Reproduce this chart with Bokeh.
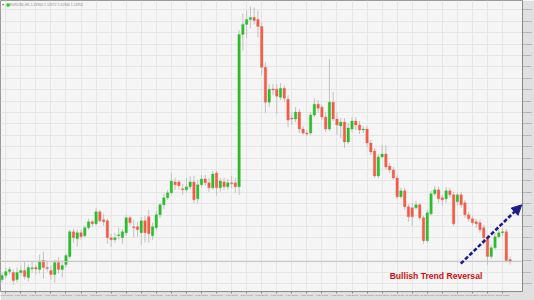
import datetime as dt
from bokeh.plotting import figure
from bokeh.models import FixedTicker, Span, Label, Arrow, NormalHead, ColumnDataSource
from bokeh.embed import file_html
from bokeh.resources import INLINE

symbol = "EURUSD,H1"

opens = [1.11880, 1.11896, 1.11912, 1.11908, 1.11880, 1.11908, 1.11916, 1.11888, 1.11924, 1.11928,
         1.11920, 1.11956, 1.11928, 1.11916, 1.11900, 1.11948, 1.11920, 1.11940, 1.11972, 1.12072,
         1.12044, 1.12068, 1.12056, 1.12088, 1.12112, 1.12104, 1.12152, 1.12120, 1.12116, 1.12048,
         1.12040, 1.12056, 1.12048, 1.12068, 1.12128, 1.12092, 1.12092, 1.12068, 1.12116, 1.12132,
         1.12056, 1.12088, 1.12140, 1.12180, 1.12208, 1.12228, 1.12272, 1.12272, 1.12244, 1.12240,
         1.12252, 1.12272, 1.12204, 1.12260, 1.12284, 1.12268, 1.12248, 1.12308, 1.12248, 1.12272,
         1.12252, 1.12268, 1.12268, 1.12252, 1.12864, 1.12904, 1.12924, 1.12932, 1.12924, 1.12896,
         1.12732, 1.12592, 1.12644, 1.12644, 1.12612, 1.12648, 1.12604, 1.12528, 1.12524, 1.12552,
         1.12484, 1.12468, 1.12468, 1.12540, 1.12584, 1.12572, 1.12532, 1.12484, 1.12592, 1.12524,
         1.12496, 1.12512, 1.12432, 1.12484, 1.12516, 1.12500, 1.12480, 1.12484, 1.12428, 1.12396,
         1.12296, 1.12372, 1.12384, 1.12336, 1.12320, 1.12288, 1.12212, 1.12236, 1.12172, 1.12168,
         1.12168, 1.12180, 1.12128, 1.12036, 1.12144, 1.12224, 1.12240, 1.12208, 1.12204, 1.12236,
         1.12220, 1.12192, 1.12220, 1.12188, 1.12140, 1.12124, 1.12112, 1.12108, 1.12088, 1.12048,
         1.11972, 1.12008, 1.12052, 1.12068, 1.12072, 1.11960]
highs = [1.11908, 1.11928, 1.11932, 1.11920, 1.11928, 1.11936, 1.11952, 1.11940, 1.11952, 1.11940,
         1.11980, 1.11992, 1.11952, 1.11936, 1.11960, 1.11968, 1.11952, 1.11984, 1.12080, 1.12084,
         1.12080, 1.12080, 1.12096, 1.12124, 1.12120, 1.12168, 1.12160, 1.12144, 1.12124, 1.12064,
         1.12068, 1.12088, 1.12084, 1.12140, 1.12136, 1.12120, 1.12112, 1.12132, 1.12136, 1.12160,
         1.12108, 1.12156, 1.12188, 1.12224, 1.12240, 1.12308, 1.12288, 1.12280, 1.12264, 1.12288,
         1.12296, 1.12296, 1.12280, 1.12300, 1.12300, 1.12288, 1.12316, 1.12316, 1.12288, 1.12288,
         1.12284, 1.12296, 1.12288, 1.12880, 1.12948, 1.12960, 1.12976, 1.12972, 1.12960, 1.12912,
         1.12752, 1.12664, 1.12664, 1.12664, 1.12668, 1.12660, 1.12620, 1.12552, 1.12572, 1.12564,
         1.12496, 1.12480, 1.12552, 1.12608, 1.12600, 1.12584, 1.12552, 1.12764, 1.12632, 1.12552,
         1.12528, 1.12528, 1.12508, 1.12532, 1.12532, 1.12516, 1.12496, 1.12496, 1.12440, 1.12408,
         1.12384, 1.12420, 1.12420, 1.12348, 1.12332, 1.12300, 1.12248, 1.12248, 1.12184, 1.12188,
         1.12196, 1.12188, 1.12136, 1.12160, 1.12236, 1.12256, 1.12252, 1.12220, 1.12252, 1.12248,
         1.12232, 1.12228, 1.12232, 1.12200, 1.12152, 1.12136, 1.12124, 1.12120, 1.12100, 1.12060,
         1.12020, 1.12068, 1.12080, 1.12088, 1.12084, 1.11972]
lows = [1.11868, 1.11884, 1.11900, 1.11860, 1.11868, 1.11896, 1.11880, 1.11872, 1.11908, 1.11900,
        1.11904, 1.11884, 1.11912, 1.11880, 1.11868, 1.11904, 1.11888, 1.11928, 1.11964, 1.12028,
        1.12012, 1.12040, 1.12048, 1.12080, 1.12092, 1.12096, 1.12108, 1.12096, 1.12024, 1.12012,
        1.12028, 1.12040, 1.12024, 1.12056, 1.12096, 1.12048, 1.12052, 1.12020, 1.12028, 1.12028,
        1.12040, 1.12076, 1.12128, 1.12164, 1.12200, 1.12220, 1.12240, 1.12240, 1.12220, 1.12228,
        1.12240, 1.12188, 1.12188, 1.12248, 1.12256, 1.12232, 1.12240, 1.12216, 1.12232, 1.12240,
        1.12240, 1.12248, 1.12228, 1.12220, 1.12800, 1.12848, 1.12888, 1.12904, 1.12852, 1.12700,
        1.12548, 1.12572, 1.12620, 1.12544, 1.12600, 1.12592, 1.12492, 1.12500, 1.12512, 1.12468,
        1.12460, 1.12456, 1.12460, 1.12532, 1.12548, 1.12520, 1.12472, 1.12476, 1.12516, 1.12460,
        1.12448, 1.12408, 1.12424, 1.12472, 1.12480, 1.12464, 1.12468, 1.12412, 1.12380, 1.12288,
        1.12288, 1.12368, 1.12324, 1.12308, 1.12280, 1.12204, 1.12204, 1.12160, 1.12112, 1.12096,
        1.12160, 1.12120, 1.12024, 1.12028, 1.12136, 1.12216, 1.12188, 1.12176, 1.12188, 1.12208,
        1.12096, 1.12176, 1.12168, 1.12128, 1.12112, 1.12096, 1.12088, 1.12068, 1.12020, 1.11940,
        1.11964, 1.12000, 1.12044, 1.12056, 1.11948, 1.11940]
closes = [1.11896, 1.11912, 1.11920, 1.11876, 1.11908, 1.11916, 1.11892, 1.11928, 1.11926, 1.11922,
          1.11952, 1.11928, 1.11924, 1.11900, 1.11948, 1.11920, 1.11936, 1.11976, 1.12072, 1.12048,
          1.12068, 1.12052, 1.12088, 1.12112, 1.12104, 1.12152, 1.12116, 1.12112, 1.12048, 1.12040,
          1.12048, 1.12060, 1.12072, 1.12128, 1.12108, 1.12088, 1.12080, 1.12116, 1.12068, 1.12064,
          1.12092, 1.12140, 1.12180, 1.12208, 1.12228, 1.12276, 1.12260, 1.12256, 1.12240, 1.12252,
          1.12272, 1.12200, 1.12260, 1.12284, 1.12268, 1.12248, 1.12304, 1.12248, 1.12276, 1.12252,
          1.12268, 1.12264, 1.12252, 1.12864, 1.12904, 1.12924, 1.12932, 1.12920, 1.12896, 1.12732,
          1.12592, 1.12644, 1.12642, 1.12616, 1.12648, 1.12608, 1.12520, 1.12524, 1.12552, 1.12484,
          1.12468, 1.12464, 1.12540, 1.12584, 1.12568, 1.12532, 1.12484, 1.12592, 1.12524, 1.12500,
          1.12512, 1.12432, 1.12488, 1.12516, 1.12500, 1.12480, 1.12484, 1.12428, 1.12392, 1.12296,
          1.12372, 1.12384, 1.12332, 1.12320, 1.12288, 1.12212, 1.12236, 1.12172, 1.12132, 1.12132,
          1.12180, 1.12128, 1.12036, 1.12148, 1.12224, 1.12240, 1.12204, 1.12200, 1.12236, 1.12220,
          1.12104, 1.12220, 1.12180, 1.12140, 1.12124, 1.12108, 1.12104, 1.12080, 1.12048, 1.11972,
          1.12008, 1.12052, 1.12068, 1.12072, 1.11956, 1.11952]

price_ticks = [1.12963, 1.12917, 1.12871, 1.12825, 1.12779, 1.12734, 1.12688, 1.12642, 1.12596,
               1.12550, 1.12505, 1.12459, 1.12413, 1.12367, 1.12321, 1.12276, 1.12230, 1.12184,
               1.12138, 1.12092, 1.12047, 1.12001, 1.11955, 1.11909, 1.11863]
price_tick_labels = ["%.5f" % v for v in price_ticks]

time_tick_idx = list(range(1, 137, 4))
t0 = dt.datetime(2020, 7, 6, 0)
time_tick_labels = [(t0 + dt.timedelta(hours=i)).strftime("%d %b %H:%M").lstrip("0") for i in time_tick_idx]

annotation_text = "Bullish Trend Reversal"
annotation_pos = (103.0, 1.11896)
arrow_from = (121.9, 1.11944)
arrow_to = (138.1, 1.12180)

GREEN = "#2bbd2b"
RED = "#f25c46"
WICK = "#c2c2c2"
NAVY = "#1c1c8c"

n = len(opens)
xs = list(range(n))
tops, bots, cols = [], [], []
for o, c in zip(opens, closes):
    t, b = max(o, c), min(o, c)
    if t - b < 0.00004:
        m = (t + b) / 2
        t, b = m + 0.00002, m - 0.00002
    tops.append(t)
    bots.append(b)
    cols.append(GREEN if c >= o else RED)

src = ColumnDataSource(dict(x=xs, o=opens, h=highs, l=lows, c=closes, top=tops, bot=bots, col=cols))

p = figure(width=534, height=300, x_range=(-0.4, 138.3), y_range=(1.11832, 1.13000),
           output_backend="svg", toolbar_location=None, min_border=0,
           min_border_right=11, min_border_bottom=8,
           y_axis_location="right")
p.background_fill_color = "#f5f5f5"
p.border_fill_color = "#e0e0e0"
p.outline_line_color = "#9a9a9a"

p.xgrid.ticker = FixedTicker(ticks=time_tick_idx)
p.ygrid.ticker = FixedTicker(ticks=price_ticks)
p.xgrid.grid_line_color = "#e6e6e6"
p.ygrid.grid_line_color = "#e6e6e6"

xa = p.xaxis[0]
xa.ticker = FixedTicker(ticks=time_tick_idx)
xa.major_label_overrides = {i: s for i, s in zip(time_tick_idx, time_tick_labels)}
xa.major_label_text_font_size = "2.5px"
xa.major_label_text_color = "#707070"
xa.major_label_text_font = "Liberation Sans"
xa.major_tick_out = 2
xa.major_tick_in = 0
xa.minor_tick_line_color = None
xa.major_label_standoff = 1
xa.axis_line_color = "#8a8a8a"
xa.major_tick_line_color = "#8a8a8a"

ya = p.yaxis[0]
ya.ticker = FixedTicker(ticks=price_ticks)
ya.major_label_overrides = {v: s for v, s in zip(price_ticks, price_tick_labels)}
ya.major_label_text_font_size = "2.2px"
ya.major_label_text_color = "#6a6a6a"
ya.major_label_text_font = "Liberation Sans"
ya.major_tick_out = 1
ya.major_tick_in = 0
ya.minor_tick_line_color = None
ya.major_label_standoff = 0
ya.axis_line_color = "#8a8a8a"
ya.major_tick_line_color = "#8a8a8a"

p.add_layout(Span(location=closes[-1], dimension="width", line_color="#c6c6c6", line_width=1))

p.segment(x0="x", y0="l", x1="x", y1="h", source=src, line_color=WICK, line_width=1)
p.vbar(x="x", top="top", bottom="bot", width=0.66, source=src, fill_color="col", line_color="col", line_width=0.3)

p.add_layout(Arrow(end=NormalHead(size=10, fill_color=NAVY, line_color=NAVY),
                   x_start=arrow_from[0], y_start=arrow_from[1], x_end=arrow_to[0], y_end=arrow_to[1],
                   line_color=NAVY, line_width=2.6, line_dash="4 2"))

p.add_layout(Label(x=annotation_pos[0], y=annotation_pos[1], text=annotation_text,
                   text_font="Liberation Sans", text_font_style="bold", text_font_size="8.6px",
                   text_color="#cc1010", text_baseline="alphabetic"))

header = "%s %.5f %.5f %.5f %.5f" % (symbol, opens[-1], highs[-1], lows[-1], closes[-1])
p.add_layout(Label(x=9, y=289, x_units="screen", y_units="screen", text=header,
                   text_font="Liberation Sans", text_font_size="3.5px", text_color="#8a8a8a",
                   text_baseline="top"))
p.add_layout(Label(x=5.5, y=289.5, x_units="screen", y_units="screen", text="■",
                   text_font="DejaVu Sans", text_font_size="4px", text_color="#22cc22",
                   text_baseline="top"))
p.add_layout(Label(x=1.5, y=289.5, x_units="screen", y_units="screen", text="▾",
                   text_font="DejaVu Sans", text_font_size="4px", text_color="#777777",
                   text_baseline="top"))

open("out.html", "w").write(file_html(p, INLINE))
